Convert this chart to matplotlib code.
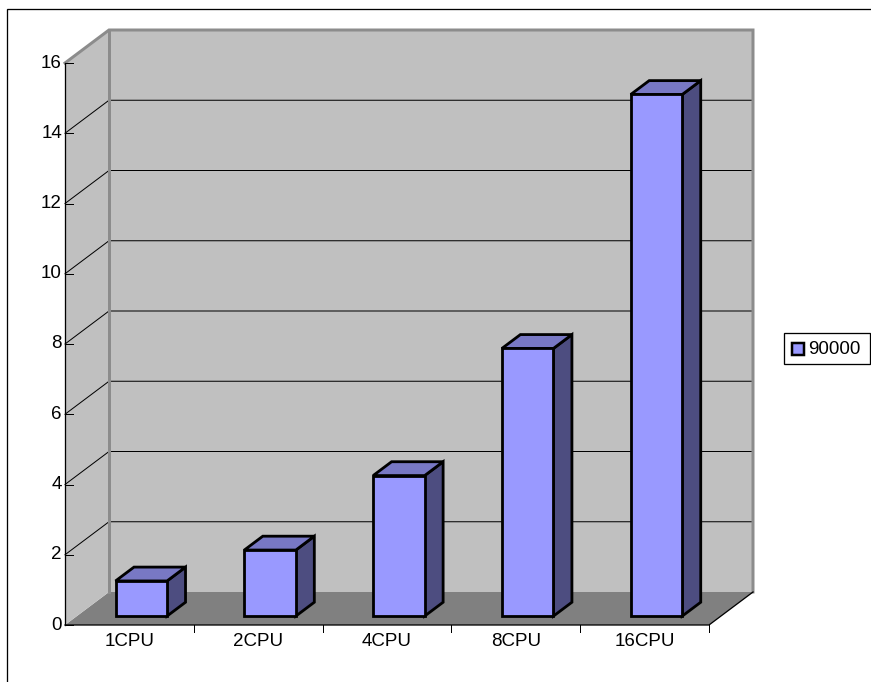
import matplotlib
matplotlib.use("Agg")
import matplotlib.pyplot as plt
from matplotlib.patches import Polygon, Rectangle
from matplotlib.lines import Line2D

# ---- data ----
categories = ["1CPU", "2CPU", "4CPU", "8CPU", "16CPU"]
series_name = "90000"
values = [1.0, 1.88, 4.0, 7.62, 14.85]
y_ticks = [0, 2, 4, 6, 8, 10, 12, 14, 16]

# ---- styling ----
WALL = "#C0C0C0"
FLOOR = "#808080"
WALL_EDGE = "#8C8C8C"
FRONT = "#9999FF"
TOP = "#7878C4"
SIDE = "#4D4D80"
FONT = "Liberation Sans"
FS = 13.5
PX = 0.72  # one pixel in points at 100 dpi

W, H = 871, 682
fig = plt.figure(figsize=(W / 100, H / 100), dpi=100)
fig.patch.set_facecolor("white")

# plot area geometry (pixels) used to place the value/category axes
x0_px, x1_px = 65, 709          # front floor edge
y0_px, y16_px = 625, 63         # value 0 and value 16 on the front plane
n = len(categories)
ymax = y_ticks[-1]
cat_px = (x1_px - x0_px) / n
val_px = (y0_px - y16_px) / ymax
depth_dx_px, depth_dy_px = 44, 33

ax = fig.add_axes([0, 0, 1, 1])
ax.set_xlim(-x0_px / cat_px, (W - x0_px) / cat_px)
ax.set_ylim(-(H - y0_px) / val_px, y0_px / val_px)
ax.axis("off")

DX = depth_dx_px / cat_px
DY = depth_dy_px / val_px


def P(x, v, d):
    """Oblique projection of (category, value, depth) to axes data."""
    return (x + d * DX, v + d * DY)


# chart frame
fig.add_artist(Rectangle((7 / W, -0.1), 1.2, (H - 9) / H + 0.1,
                         transform=fig.transFigure, fill=False,
                         edgecolor="black", linewidth=1.3 * PX))

# floor
ax.add_patch(Polygon([P(0, 0, 0), P(n, 0, 0), P(n, 0, 1), P(0, 0, 1)],
                     closed=True, facecolor=FLOOR, edgecolor="none", zorder=1))
# back wall
ax.add_patch(Polygon([P(0, 0, 1), P(n, 0, 1), P(n, ymax, 1), P(0, ymax, 1)],
                     closed=True, facecolor=WALL, edgecolor="none", zorder=1))
# side wall
ax.add_patch(Polygon([P(0, 0, 0), P(0, 0, 1), P(0, ymax, 1), P(0, ymax, 0)],
                     closed=True, facecolor=WALL, edgecolor="none", zorder=1))

# gridlines on walls
for v in y_ticks[1:-1]:
    xs, ys = zip(P(0, v, 0), P(0, v, 1), P(n, v, 1))
    ax.add_line(Line2D(xs, ys, color="black", linewidth=1 * PX, zorder=2))

# wall edges
for pts in ([P(0, ymax, 0), P(0, ymax, 1), P(n, ymax, 1), P(n, 0, 1)],
            [P(0, 0, 1), P(0, ymax, 1)]):
    xs, ys = zip(*pts)
    ax.add_line(Line2D(xs, ys, color=WALL_EDGE, linewidth=3 * PX,
                       solid_joinstyle="miter", zorder=3))

# value axis
xs, ys = zip(P(0, 0, 0), P(0, ymax, 0))
ax.add_line(Line2D(xs, ys, color="black", linewidth=1.3 * PX, zorder=4))
tick_len = 8 / cat_px
for v in y_ticks:
    ax.add_line(Line2D([0, tick_len], [v, v], color="black",
                       linewidth=1 * PX, zorder=4))
    ax.text(-3 / cat_px, v, str(v), ha="right", va="center",
            fontsize=FS, family=FONT, color="black")

# category axis: front edge, right floor edge, ticks
xs, ys = zip(P(0, 0, 0), P(n, 0, 0), P(n, 0, 1))
ax.add_line(Line2D(xs, ys, color="black", linewidth=1.3 * PX, zorder=4))
tick_down = 7 / val_px
for i in range(1, n + 1):
    ax.add_line(Line2D([i, i], [0, -tick_down], color="black",
                       linewidth=1 * PX, zorder=4))
for i, c in enumerate(categories):
    ax.text(i + 0.5, -17 / val_px, c, ha="center", va="center",
            fontsize=FS, family=FONT, color="black")

# bars
bar_w = 0.4
d_front, d_back = 0.27, 0.69
ec = dict(edgecolor="black", linewidth=2.8 * PX, joinstyle="miter")
for i, v in enumerate(values):
    xl, xr = i + 0.5 - bar_w / 2, i + 0.5 + bar_w / 2
    side = [P(xr, 0, d_front), P(xr, 0, d_back), P(xr, v, d_back), P(xr, v, d_front)]
    top = [P(xl, v, d_front), P(xr, v, d_front), P(xr, v, d_back), P(xl, v, d_back)]
    front = [P(xl, 0, d_front), P(xr, 0, d_front), P(xr, v, d_front), P(xl, v, d_front)]
    ax.add_patch(Polygon(side, closed=True, facecolor=SIDE, zorder=5, **ec))
    ax.add_patch(Polygon(top, closed=True, facecolor=TOP, zorder=5, **ec))
    ax.add_patch(Polygon(front, closed=True, facecolor=FRONT, zorder=6, **ec))

# legend
lx0, ly0, lx1, ly1 = 784, 333, 870, 364
fig.add_artist(Rectangle((lx0 / W, 1 - ly1 / H), (lx1 - lx0) / W, (ly1 - ly0) / H,
                         transform=fig.transFigure, facecolor="white",
                         edgecolor="black", linewidth=1.3 * PX))
fig.add_artist(Rectangle((792 / W, 1 - 355 / H), 12 / W, 12 / H,
                         transform=fig.transFigure, facecolor=FRONT,
                         edgecolor="black", linewidth=2.5 * PX))
fig.text(808 / W, 1 - 349 / H, series_name, ha="left", va="center",
         fontsize=FS, family=FONT, color="black")

fig.savefig("out.png", dpi=100, facecolor="white")
